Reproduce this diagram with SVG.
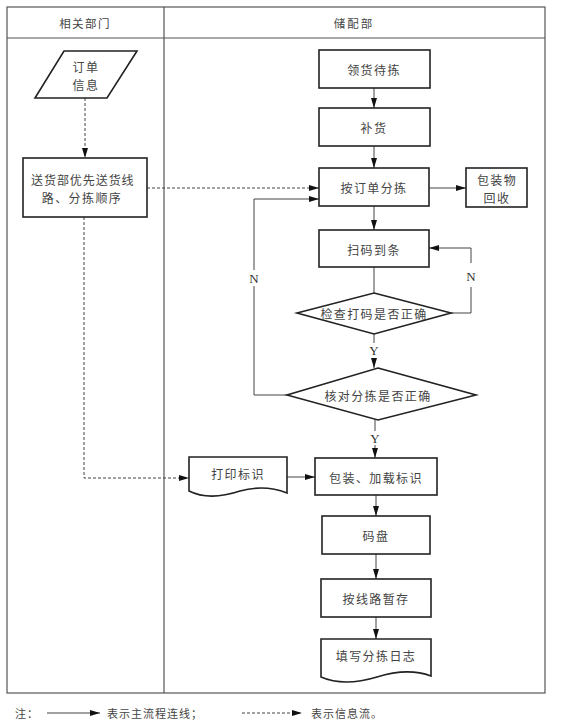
<svg xmlns="http://www.w3.org/2000/svg" width="575" height="725" viewBox="0 0 575 725">
<style>
.t{font-family:"Noto Sans CJK SC","Noto Sans",sans-serif;font-size:12px;fill:#444;text-anchor:middle;dominant-baseline:central;letter-spacing:1.4px}
.h{font-size:11.5px}
.s{text-anchor:start;font-size:11px;letter-spacing:1px}
.l{font-family:"Liberation Serif","Noto Sans CJK SC",serif;font-size:13px;fill:#333;text-anchor:middle;dominant-baseline:central}
.n{fill:#fff;stroke:#222;stroke-width:1.6}
.c{fill:none;stroke:#444;stroke-width:1}
.d{fill:none;stroke:#444;stroke-width:1;stroke-dasharray:3 2}
.f{fill:none;stroke:#555;stroke-width:1.2}
</style>
<defs>
<marker id="a" viewBox="0 0 10 6" refX="10" refY="3" markerWidth="10" markerHeight="6" markerUnits="userSpaceOnUse" orient="auto">
<path d="M0,0 L10,3 L0,6 Z" fill="#111"/>
</marker>
</defs>
<rect width="575" height="725" fill="#fff"/>
<g id="frame">
<rect class="f" x="7" y="7" width="538" height="686"/>
<line class="f" x1="7" y1="38" x2="545" y2="38"/>
<line class="f" x1="164" y1="7" x2="164" y2="693"/>
<text class="t h" x="85" y="23">相关部门</text>
<text class="t h" x="354" y="23" style="letter-spacing:2px">储配部</text>
</g>
<g id="connectors">
<path class="c" d="M374,88 V108" marker-end="url(#a)"/>
<path class="c" d="M374,146 V168" marker-end="url(#a)"/>
<path class="c" d="M429,188 H466" marker-end="url(#a)"/>
<path class="c" d="M374,206 V230" marker-end="url(#a)"/>
<path class="c" d="M374,267 V293"/>
<path class="c" d="M374,334 V343"/>
<path class="c" d="M374,358 V368" marker-end="url(#a)"/>
<path class="c" d="M451,313 H471 V287"/>
<path class="c" d="M471,263 V248 H429" marker-end="url(#a)"/>
<path class="c" d="M375,420 V431"/>
<path class="c" d="M375,445 V458" marker-end="url(#a)"/>
<path class="c" d="M287,395 H254 V286"/>
<path class="c" d="M254,270 V199 H319" marker-end="url(#a)"/>
<path class="d" d="M85,98 V158" marker-end="url(#a)"/>
<path class="d" d="M147,188 H319" marker-end="url(#a)"/>
<path class="d" d="M84,217 V478 H189" marker-end="url(#a)"/>
<path class="c" d="M287,477 H315" marker-end="url(#a)"/>
<path class="c" d="M376,495 V516" marker-end="url(#a)"/>
<path class="c" d="M376,554 V579" marker-end="url(#a)"/>
<path class="c" d="M376,617 V639" marker-end="url(#a)"/>
<text class="l" x="471" y="276">N</text>
<text class="l" x="254" y="278">N</text>
<text class="l" x="374" y="350">Y</text>
<text class="l" x="375" y="438">Y</text>
</g>
<g id="n-order-info">
<polygon class="n" points="64,51 137,51 107,98 35,98"/>
<text class="t" x="86" y="66">订单</text>
<text class="t" x="86" y="84">信息</text>
</g>
<g id="n-delivery">
<rect class="n" x="23" y="158" width="124" height="59"/>
<text class="t" x="83" y="179" textLength="104" lengthAdjust="spacing">送货部优先送货线</text>
<text class="t" x="82" y="197">路、分拣顺序</text>
</g>
<g id="n-pick">
<rect class="n" x="319" y="50" width="111" height="38"/>
<text class="t" x="374" y="69">领货待拣</text>
</g>
<g id="n-replenish">
<rect class="n" x="319" y="108" width="111" height="38"/>
<text class="t" x="374" y="127">补货</text>
</g>
<g id="n-sort">
<rect class="n" x="319" y="168" width="110" height="38"/>
<text class="t" x="374" y="187">按订单分拣</text>
</g>
<g id="n-recycle">
<rect class="n" x="466" y="168" width="61" height="39"/>
<text class="t" x="497" y="179">包装物</text>
<text class="t" x="497" y="197">回收</text>
</g>
<g id="n-scan">
<rect class="n" x="319" y="230" width="110" height="37"/>
<text class="t" x="374" y="249">扫码到条</text>
</g>
<g id="n-check1">
<polygon class="n" points="374,293 451,313 374,334 297,313"/>
<text class="t" x="374" y="313">检查打码是否正确</text>
</g>
<g id="n-check2">
<polygon class="n" points="378,368 476,395 378,420 287,395"/>
<text class="t" x="378" y="395">核对分拣是否正确</text>
</g>
<g id="n-print">
<path class="n" d="M189,457 H287 V493 C272,487 258,486 240,491 C222,497 203,498 189,491 Z"/>
<text class="t" x="238" y="473">打印标识</text>
</g>
<g id="n-pack">
<rect class="n" x="315" y="458" width="122" height="37"/>
<text class="t" x="376" y="477">包装、加载标识</text>
</g>
<g id="n-pallet">
<rect class="n" x="322" y="516" width="108" height="38"/>
<text class="t" x="376" y="535">码盘</text>
</g>
<g id="n-store">
<rect class="n" x="321" y="579" width="110" height="38"/>
<text class="t" x="376" y="598">按线路暂存</text>
</g>
<g id="n-log">
<path class="n" d="M321,639 H431 V676 C415,670 396,671 377,677 C357,683 337,684 321,677 Z"/>
<text class="t" x="376" y="655">填写分拣日志</text>
</g>
<g id="legend">
<text class="t s" x="15" y="713">注：</text>
<path class="c" d="M47,713 H100" marker-end="url(#a)"/>
<text class="t s" x="107" y="713">表示主流程连线；</text>
<path class="d" d="M242,713 H302" marker-end="url(#a)"/>
<text class="t s" x="311" y="713">表示信息流。</text>
</g>
</svg>
